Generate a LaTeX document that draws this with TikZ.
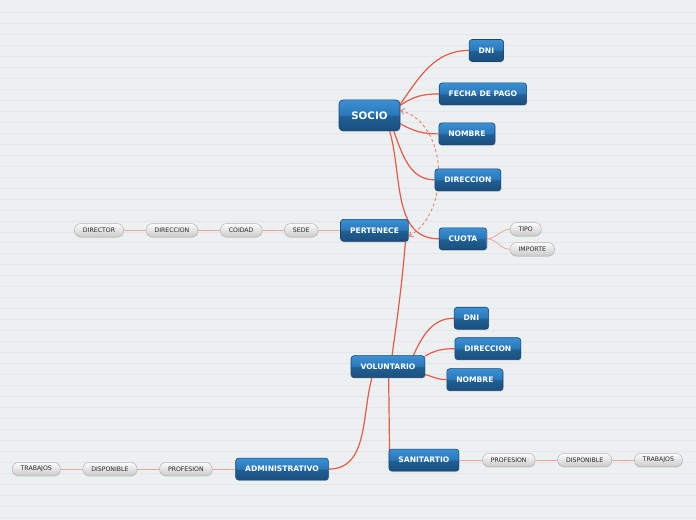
\documentclass[tikz,border=0pt]{standalone}
\usepackage{fontspec}
\setmainfont{DejaVu Sans}
\usetikzlibrary{positioning,calc,arrows.meta,shadows}

\definecolor{bgpaper}{HTML}{EDF0F1}
\definecolor{bgstripe}{HTML}{E4E7E9}
\definecolor{linkred}{HTML}{E8594A}
\definecolor{linkpink}{HTML}{F0A49B}
\definecolor{boxtop}{HTML}{3A90D3}
\definecolor{boxmidA}{HTML}{2A78BA}
\definecolor{boxmidB}{HTML}{215F94}
\definecolor{boxbot}{HTML}{1B4F7E}
\definecolor{boxedge}{HTML}{174673}
\definecolor{pilltop}{HTML}{FCFCFC}
\definecolor{pillbot}{HTML}{CACACA}
\definecolor{pilledge}{HTML}{B3B3B3}

\pgfdeclareverticalshading{boxgloss}{100bp}{color(0bp)=(boxbot); color(25bp)=(boxbot); color(49bp)=(boxmidB); color(51bp)=(boxmidA); color(75bp)=(boxtop); color(100bp)=(boxtop)}

\pgfdeclarelayer{back}
\pgfdeclarelayer{links}
\pgfsetlayers{back,links,main}

\tikzset{
  topic/.style={rectangle, rounded corners=3pt, draw=boxedge, line width=0.6pt,
    shade, shading=boxgloss, text=white, font=\bfseries\fontsize{7.6}{9}\selectfont,
    inner xsep=9.5pt, inner ysep=0pt, minimum height=22pt,
    drop shadow={opacity=0.25, shadow xshift=0.6pt, shadow yshift=-1pt}},
  root/.style={topic, rounded corners=4pt, font=\bfseries\fontsize{10.3}{12}\selectfont,
    minimum width=61pt, minimum height=31pt},
  leaf/.style={rectangle, rounded corners=6.5pt, draw=pilledge, line width=0.5pt,
    top color=pilltop, bottom color=pillbot, text=black!85,
    font=\fontsize{6.2}{7}\selectfont, inner xsep=8.5pt, inner ysep=0pt, minimum height=13.5pt,
    drop shadow={opacity=0.15, shadow xshift=0.4pt, shadow yshift=-0.8pt}},
  link/.style={draw=linkred, line width=1.2pt},
  twig/.style={draw=linkpink, line width=0.8pt},
  crossref/.style={draw=linkred!85, line width=0.8pt, dash pattern=on 3pt off 2.5pt,
    {Straight Barb[length=3.5pt,width=6pt]}-{Straight Barb[length=3.5pt,width=6pt]}},
}

\begin{document}
\begin{tikzpicture}[x=1pt,y=1pt]
\begin{pgfonlayer}{back}
  \fill[bgpaper] (0,0) rectangle (696,-520);
  \foreach \k in {1,...,47}
    \draw[bgstripe, line width=0.6pt] (0,{-1-11*\k}) -- (696,{-1-11*\k});
\end{pgfonlayer}
\useasboundingbox (0,0) rectangle (696,-520);

% socio and its fields
\node[root] (socio) at (369.5,-115.5) {SOCIO};
\node[topic] (dni) at (486.5,-50.5) {DNI};
\node[topic] (fecha) at (483,-94) {FECHA DE PAGO};
\node[topic] (nombre) at (467,-134) {NOMBRE};
\node[topic] (direccion) at (468,-180) {DIRECCION};
\node[topic] (cuota) at (463,-239) {CUOTA};
\node[leaf, anchor=west] (tipo) at (510,-229.5) {TIPO};
\node[leaf, anchor=west] (importe) at (510,-249.5) {IMPORTE};

% pertenece chain
\node[topic] (pertenece) at (374.5,-230.5) {PERTENECE};
\node[leaf, left=22pt of pertenece] (sede) {SEDE};
\node[leaf, left=22pt of sede] (coidad) {COIDAD};
\node[leaf, left=22pt of coidad] (dirsede) {DIRECCION};
\node[leaf, left=22pt of dirsede] (director) {DIRECTOR};

% voluntario
\node[topic] (voluntario) at (388,-367) {VOLUNTARIO};
\node[topic] (vdni) at (471.5,-318.5) {DNI};
\node[topic] (vdireccion) at (488,-349) {DIRECCION};
\node[topic] (vnombre) at (475,-380) {NOMBRE};

% sanitario and administrativo
\node[topic] (sanitario) at (424,-460.5) {SANITARTIO};
\node[leaf, right=23pt of sanitario] (sprof) {PROFESION};
\node[leaf, right=22pt of sprof] (sdisp) {DISPONIBLE};
\node[leaf, right=22pt of sdisp] (strab) {TRABAJOS};

\node[topic] (admin) at (282,-469.5) {ADMINISTRATIVO};
\node[leaf, left=23pt of admin] (aprof) {PROFESION};
\node[leaf, left=22pt of aprof] (adisp) {DISPONIBLE};
\node[leaf, left=22pt of adisp] (atrab) {TRABAJOS};

\begin{pgfonlayer}{links}
  \draw[link] (socio.20) to[out=55,in=180] (dni.west);
  \draw[link] (socio.18) to[out=35,in=180] (fecha.west);
  \draw[link] (socio.-15) to[out=-30,in=180] (nombre.west);
  \draw[link] (socio.-33) to[out=-70,in=180] (direccion.west);
  \draw[link] (socio.-38) to[out=-74,in=180] (cuota.west);
  \draw[twig] (cuota.east) to[out=0,in=180] (tipo.west);
  \draw[twig] (cuota.east) to[out=0,in=180] (importe.west);
  \draw[crossref] ([yshift=-6pt]pertenece.east) to[out=30,in=-15] ([yshift=5pt]socio.east);

  \draw[twig] (pertenece.west) -- (sede.east);
  \draw[twig] (sede.west) -- (coidad.east);
  \draw[twig] (coidad.west) -- (dirsede.east);
  \draw[twig] (dirsede.west) -- (director.east);

  \draw[link] (pertenece.-20) to[out=-95,in=82] (voluntario.70);
  \draw[link] (voluntario.24) to[out=65,in=180] (vdni.west);
  \draw[link] (voluntario.16) to[out=30,in=180] (vdireccion.west);
  \draw[link] (voluntario.-12) to[out=-15,in=180] (vnombre.west);

  \draw[link] (sanitario.west |- voluntario.south) -- ([xshift=1pt]sanitario.west);
  \draw[link] (voluntario.-145) to[out=-105,in=0] (admin.east);

  \draw[twig] (sanitario.east) -- (sprof.west);
  \draw[twig] (sprof.east) -- (sdisp.west);
  \draw[twig] (sdisp.east) -- (strab.west);
  \draw[twig] (admin.west) -- (aprof.east);
  \draw[twig] (aprof.west) -- (adisp.east);
  \draw[twig] (adisp.west) -- (atrab.east);
\end{pgfonlayer}
\end{tikzpicture}
\end{document}
